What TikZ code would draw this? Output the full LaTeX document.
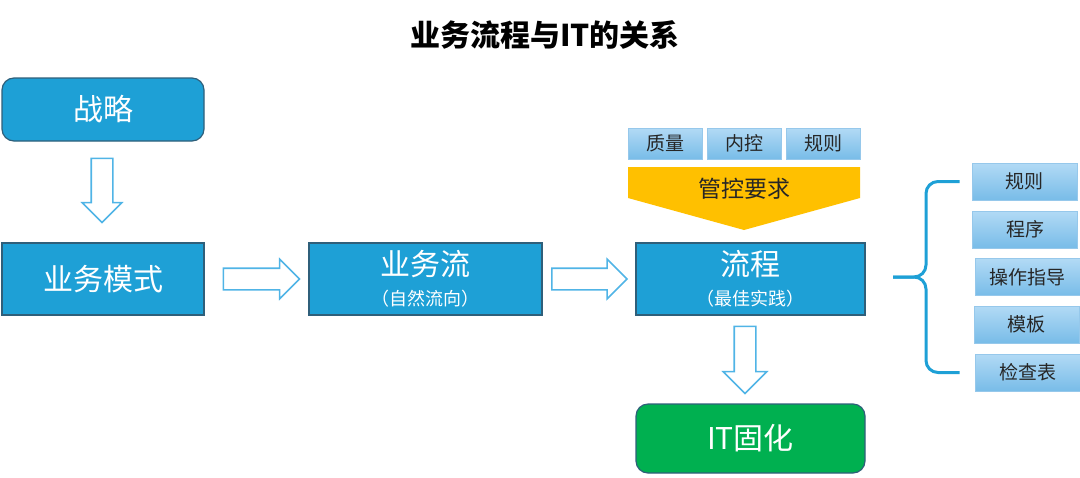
\documentclass[tikz,border=0pt]{standalone}
\usepackage{fontspec}
\setmainfont{Noto Sans CJK SC}
\usetikzlibrary{shapes.arrows, positioning, calc}
\definecolor{cBlue}{RGB}{30,160,214}
\definecolor{cEdge}{RGB}{47,95,122}
\definecolor{cGreen}{RGB}{0,176,80}
\definecolor{cGold}{RGB}{255,192,0}
\definecolor{cTagTop}{RGB}{178,218,245}
\definecolor{cTagBot}{RGB}{120,188,232}
\definecolor{cTagLine}{RGB}{150,200,235}
\definecolor{cArrow}{RGB}{80,180,230}
\definecolor{cText}{RGB}{38,38,38}
\newcommand{\subtxt}[1]{{\fontsize{9}{10}\selectfont #1}}
\tikzset{
	mainbox/.style ={rectangle, draw=cEdge, line width=0.6pt, fill=cBlue, text=white, align=center, font=\fontsize{15}{17}\selectfont, inner sep=0pt},
	roundbox/.style={mainbox, rounded corners=6pt},
	tagbox/.style  ={rectangle, draw=cTagLine, line width=0.4pt, top color=cTagTop, bottom color=cTagBot, text=cText, font=\fontsize{9.5}{11}\selectfont, inner sep=0pt},
	hollow/.style  ={single arrow, draw=cArrow, line width=0.8pt, fill=white, inner xsep=0pt, inner ysep=5pt, single arrow head indent=0pt, single arrow head extend=4.5pt},
	bracel/.style  ={draw=cBlue, line width=1.5pt, rounded corners=6pt},
}
\begin{document}
\begin{tikzpicture}[x=0.5pt, y=-0.5pt]
	\useasboundingbox (0,0) rectangle (1080,477);
	\node[font=\fontsize{15}{17}\selectfont\bfseries] (title) at (545,35) {业务流程与IT的关系};
	% main chain
	\node[roundbox, minimum width=101pt, minimum height=31.5pt] (zl) at (103,109.5) {战略};
	\node[mainbox, minimum width=101pt, minimum height=36pt] (ms) at (103,279) {业务模式};
	\node[mainbox, minimum width=116.5pt, minimum height=36pt] (ywl) at (425.5,279) {业务流\\[-2pt]\subtxt{（自然流向）}};
	\node[mainbox, minimum width=114.5pt, minimum height=36pt] (lc) at (750.5,279) {流程\\[-2pt]\subtxt{（最佳实践）}};
	\node[roundbox, fill=cGreen, minimum width=114.5pt, minimum height=34.5pt] (it) at (750.5,438.5) {IT固化};
	% hollow arrows
	\node[hollow, rotate=-90, minimum height=32pt] (a1) at ($(zl.south)!0.5!(ms.north)+(-1,-7)$) {};
	\node[hollow, minimum height=38pt] (a2) at ($(ms.east)!0.5!(ywl.west)+(-0.5,0)$) {};
	\node[hollow, minimum height=37.5pt] (a3) at ($(ywl.east)!0.5!(lc.west)+(-5,0)$) {};
	\node[hollow, rotate=-90, minimum height=33.5pt, single arrow head extend=5.5pt] (a4) at ($(lc.south)!0.5!(it.north)+(-5.5,-5)$) {};
	% control requirements
	\node[tagbox, minimum width=37pt, minimum height=15.5pt] (t1) at (665,143.5) {质量};
	\node[tagbox, minimum width=37pt, minimum height=15.5pt] (t2) at (744.5,143.5) {内控};
	\node[tagbox, minimum width=37pt, minimum height=15.5pt] (t3) at (823.5,143.5) {规则};
	\fill[cGold] (628,167) -- (860,167) -- (860,198) -- (744,230) -- (628,198) -- cycle;
	\node[text=cText, font=\fontsize{11.5}{13}\selectfont] (gk) at (744,189) {管控要求};
	% outputs of the process
	\foreach \i/\xc/\yc/\lbl in {1/1024.5/181.5/规则, 2/1025/229.5/程序, 3/1027.5/277/操作指导, 4/1026.5/324.5/模板, 5/1027.5/372.5/检查表}
		\node[tagbox, minimum width=52.5pt, minimum height=18.5pt] (r\i) at (\xc,\yc) {\lbl};
	\coordinate (brtip) at (893,277);
	\draw[bracel] ($(r1.west)+(-12,0)$) -| (926,277) -- (brtip);
	\draw[bracel] ($(r5.west)+(-15,0)$) -| (926,277) -- (brtip);
\end{tikzpicture}
\end{document}
